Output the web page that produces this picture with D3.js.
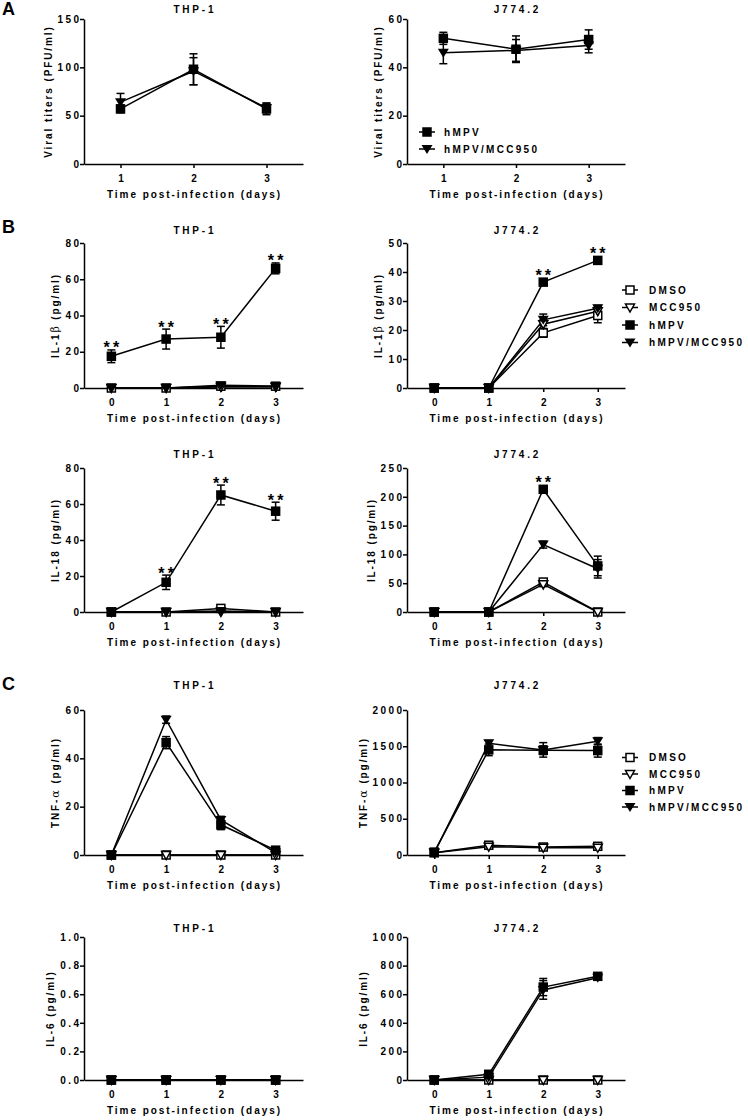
<!DOCTYPE html>
<html><head><meta charset="utf-8">
<script src="https://cdn.jsdelivr.net/npm/d3@7"></script>
<style>
body{margin:0;background:#fff;}
svg text{font-family:"Liberation Sans",Arial,sans-serif;font-weight:bold;fill:#000;}
</style></head><body>
<svg id="chart" width="748" height="1120"></svg>
<script>
// ---------------- DATA ----------------
const days = [0, 1, 2, 3];
const daysA = [1, 2, 3];
const seriesNames = ["DMSO", "MCC950", "hMPV", "hMPV/MCC950"];
const legendA = ["hMPV", "hMPV/MCC950"];

// Panel A: viral titers (series: hMPV, hMPV/MCC950)
const titerThpMeans = [[57, 98, 57], [64, 96, 58]];
const titerThpErrs  = [[4, 16, 6], [9, 14, 5]];
const titerJMeans   = [[52, 47.5, 51.5], [46, 47, 49]];
const titerJErrs    = [[2.5, 5.5, 4], [4.5, 4.5, 3]];

// Panel B: IL-1beta (series: DMSO, MCC950, hMPV, hMPV/MCC950)
const il1bThpMeans = [[0, 0, 1, 1], [0, 0, 0.5, 0.5], [17.5, 27, 28, 66], [0, 0, 1.5, 1]];
const il1bThpErrs  = [[0.5, 0, 0.5, 0.5], [0, 0, 0.5, 0.5], [3.5, 5.5, 6, 3], [0, 0, 0.5, 0.5]];
const il1bJMeans   = [[0, 0, 19, 25], [0, 0, 22, 26.5], [0, 0, 36.5, 44], [0, 0, 23.5, 27.5]];
const il1bJErrs    = [[0, 0, 1.5, 2.5], [0, 0, 1.5, 1.5], [0, 0, 0.8, 0.8], [0, 0, 2, 1]];

// Panel B: IL-18
const il18ThpMeans = [[0, 0, 2, 0], [0, 0, 0, 0], [0, 16.5, 65, 56], [0, 0, 0.5, 0]];
const il18ThpErrs  = [[0, 0, 1, 0], [0, 0, 0, 0], [0, 4, 5.5, 5], [0, 0, 0, 0]];
const il18JMeans   = [[0, 0, 52, 0], [0, 0, 48, 0], [0, 0, 213, 80], [0, 0, 117, 75]];
const il18JErrs    = [[0, 0, 5, 0], [0, 0, 4, 0], [0, 0, 6, 17], [0, 0, 6, 16]];

// Panel C: TNF-alpha
const tnfThpMeans = [[0, 0, 0, 0], [0, 0, 0, 0], [0, 46.5, 12.5, 2], [0, 56, 14.5, 1]];
const tnfThpErrs  = [[0, 0, 0, 0], [0, 0, 0, 0], [0, 2.5, 2, 0.5], [0, 1.5, 1.5, 0.5]];
const tnfJMeans   = [[30, 135, 110, 120], [30, 115, 100, 100], [40, 1450, 1445, 1440], [30, 1540, 1450, 1570]];
const tnfJErrs    = [[10, 20, 15, 20], [10, 15, 10, 15], [10, 80, 60, 90], [10, 40, 100, 50]];

// Panel C: IL-6
const il6ThpMeans = [[0, 0, 0, 0], [0, 0, 0, 0], [0, 0, 0, 0], [0, 0, 0, 0]];
const il6ThpErrs  = [[0, 0, 0, 0], [0, 0, 0, 0], [0, 0, 0, 0], [0, 0, 0, 0]];
const il6JMeans   = [[0, 0, 0, 0], [0, 0, 0, 0], [0, 40, 650, 725], [0, 20, 630, 715]];
const il6JErrs    = [[0, 0, 0, 0], [0, 0, 0, 0], [0, 5, 60, 20], [0, 5, 65, 15]];

// Y tick labels
const ticksTiterThp = [0, 50, 100, 150];
const ticksTiterJ = [0, 20, 40, 60];
const ticksIl1bThp = [0, 20, 40, 60, 80];
const ticksIl1bJ = [0, 10, 20, 30, 40, 50];
const ticksIl18Thp = [0, 20, 40, 60, 80];
const ticksIl18J = [0, 50, 100, 150, 200, 250];
const ticksTnfThp = [0, 20, 40, 60];
const ticksTnfJ = [0, 500, 1000, 1500, 2000];
const ticksIl6Thp = [0, 0.2, 0.4, 0.6, 0.8, 1.0];
const ticksIl6J = [0, 200, 400, 600, 800, 1000];

// Significance markers (days with **)
const starsIl1bThp = [0, 1, 2, 3];
const starsIl1bJ = [2, 3];
const starsIl18Thp = [1, 2, 3];
const starsIl18J = [2];

const xTitle = "Time post-infection (days)";

// ---------------- LAYOUT ----------------
const LX0 = 84, LX1 = 303, RX0 = 407, RX1 = 625;
const panels = [
  {title: "THP-1", xd: [0.5, 3.5], xt: daysA, x0: LX0, x1: LX1, y0: 164, y1: 19, yd: [0, 150], yt: ticksTiterThp,
   label: [["Viral titers (PFU/ml)"]], means: titerThpMeans, errs: titerThpErrs, sIdx: [2, 3], titleY: 13},
  {title: "J774.2", xd: [0.5, 3.5], xt: daysA, x0: RX0, x1: RX1, y0: 164, y1: 19, yd: [0, 60], yt: ticksTiterJ,
   label: [["Viral titers (PFU/ml)"]], means: titerJMeans, errs: titerJErrs, sIdx: [2, 3], titleY: 13,
   legend: {cx: 427, tx: 444, ys: [132, 149], names: legendA, sIdx: [2, 3]}},
  {title: "THP-1", xd: [-0.5, 3.5], xt: days, x0: LX0, x1: LX1, y0: 388, y1: 243, yd: [0, 80], yt: ticksIl1bThp,
   label: [["IL-1"], ["β", true], [" (pg/ml)"]], means: il1bThpMeans, errs: il1bThpErrs, sIdx: [0, 1, 2, 3], titleY: 234, stars: starsIl1bThp},
  {title: "J774.2", xd: [-0.5, 3.5], xt: days, x0: RX0, x1: RX1, y0: 388, y1: 243, yd: [0, 50], yt: ticksIl1bJ,
   label: [["IL-1"], ["β", true], [" (pg/ml)"]], means: il1bJMeans, errs: il1bJErrs, sIdx: [0, 1, 2, 3], titleY: 234, stars: starsIl1bJ,
   legend: {cx: 630, tx: 649, ys: [290, 307.5, 325, 342.5], names: seriesNames, sIdx: [0, 1, 2, 3]}},
  {title: "THP-1", xd: [-0.5, 3.5], xt: days, x0: LX0, x1: LX1, y0: 612, y1: 468, yd: [0, 80], yt: ticksIl18Thp,
   label: [["IL-18 (pg/ml)"]], means: il18ThpMeans, errs: il18ThpErrs, sIdx: [0, 1, 2, 3], titleY: 458, stars: starsIl18Thp},
  {title: "J774.2", xd: [-0.5, 3.5], xt: days, x0: RX0, x1: RX1, y0: 612, y1: 468, yd: [0, 250], yt: ticksIl18J,
   label: [["IL-18 (pg/ml)"]], means: il18JMeans, errs: il18JErrs, sIdx: [0, 1, 2, 3], titleY: 458, stars: starsIl18J},
  {title: "THP-1", xd: [-0.5, 3.5], xt: days, x0: LX0, x1: LX1, y0: 855, y1: 710, yd: [0, 60], yt: ticksTnfThp,
   label: [["TNF-"], ["α", true], [" (pg/ml)"]], means: tnfThpMeans, errs: tnfThpErrs, sIdx: [0, 1, 2, 3], titleY: 689},
  {title: "J774.2", xd: [-0.5, 3.5], xt: days, x0: RX0, x1: RX1, y0: 855, y1: 710, yd: [0, 2000], yt: ticksTnfJ,
   label: [["TNF-"], ["α", true], [" (pg/ml)"]], means: tnfJMeans, errs: tnfJErrs, sIdx: [0, 1, 2, 3], titleY: 689,
   legend: {cx: 630, tx: 649, ys: [757.5, 774, 790.5, 807], names: seriesNames, sIdx: [0, 1, 2, 3]}},
  {title: "THP-1", xd: [-0.5, 3.5], xt: days, x0: LX0, x1: LX1, y0: 1080, y1: 937, yd: [0, 1], yt: ticksIl6Thp, fmt: d3.format(".1f"),
   label: [["IL-6 (pg/ml)"]], means: il6ThpMeans, errs: il6ThpErrs, sIdx: [0, 1, 2, 3], titleY: 932},
  {title: "J774.2", xd: [-0.5, 3.5], xt: days, x0: RX0, x1: RX1, y0: 1080, y1: 937, yd: [0, 1000], yt: ticksIl6J,
   label: [["IL-6 (pg/ml)"]], means: il6JMeans, errs: il6JErrs, sIdx: [0, 1, 2, 3], titleY: 932}
];

const svg = d3.select("#chart");
const SW = 1.5;

// marker shapes by series index
function drawMarker(g, s, cx, cy) {
  if (s === 0) { // DMSO open square
    g.append("rect").attr("x", cx - 4).attr("y", cy - 4).attr("width", 8).attr("height", 8)
      .attr("fill", "#fff").attr("stroke", "#000").attr("stroke-width", SW);
  } else if (s === 1) { // MCC950 open triangle down
    g.append("path").attr("d", `M${cx - 4.5},${cy - 3.5}L${cx + 4.5},${cy - 3.5}L${cx},${cy + 4.5}Z`)
      .attr("fill", "#fff").attr("stroke", "#000").attr("stroke-width", SW).attr("stroke-linejoin", "miter");
  } else if (s === 2) { // hMPV filled square
    g.append("rect").attr("x", cx - 4.75).attr("y", cy - 4.75).attr("width", 9.5).attr("height", 9.5).attr("fill", "#000");
  } else { // hMPV/MCC950 filled triangle down
    g.append("path").attr("d", `M${cx - 5.5},${cy - 4}L${cx + 5.5},${cy - 4}L${cx},${cy + 5}Z`).attr("fill", "#000");
  }
}

function spaced(sel, ls, anchorMiddle) {
  sel.style("letter-spacing", ls + "px");
  if (anchorMiddle) sel.attr("dx", ls / 2);
}

panels.forEach(p => {
  const g = svg.append("g");
  const x = d3.scaleLinear().domain(p.xd).range([p.x0, p.x1]);
  const y = d3.scaleLinear().domain(p.yd).range([p.y0, p.y1]);

  // y axis
  const ya = g.append("g").attr("transform", `translate(${p.x0},0)`)
    .call(d3.axisLeft(y).tickValues(p.yt).tickFormat(p.fmt || d3.format("d")).tickSize(4).tickSizeOuter(0).tickPadding(1));
  ya.select(".domain").attr("stroke-width", SW);
  ya.selectAll(".tick line").attr("stroke-width", SW);
  ya.selectAll(".tick text").attr("font-size", 10).attr("font-family", null)
    .style("letter-spacing", "2.4px").attr("dx", 2.4);

  // x axis
  const xa = g.append("g").attr("transform", `translate(0,${p.y0})`)
    .call(d3.axisBottom(x).tickValues(p.xt).tickFormat(d3.format("d")).tickSize(4).tickSizeOuter(0).tickPadding(7));
  xa.select(".domain").attr("stroke-width", SW);
  xa.selectAll(".tick line").attr("stroke-width", SW);
  xa.selectAll(".tick text").attr("font-size", 10).attr("font-family", null);

  // x title
  const xt = g.append("text").attr("x", (p.x0 + p.x1) / 2).attr("y", p.y0 + 34)
    .attr("text-anchor", "middle").attr("font-size", 10).text(xTitle);
  spaced(xt, 1.95, true);

  // panel title
  const tt = g.append("text").attr("x", (p.x0 + p.x1) / 2).attr("y", p.titleY)
    .attr("text-anchor", "middle").attr("font-size", 10).text(p.title);
  spaced(tt, 2.8, true);

  // y title
  let minX = Infinity;
  ya.selectAll(".tick text").each(function () { const b = this.getBBox(); minX = Math.min(minX, b.x + 2.4); });
  const cx = p.x0 + minX - 12;
  const cy = (p.y0 + p.y1) / 2;
  const yl = g.append("text").attr("transform", `translate(${cx + 3.6},${cy}) rotate(-90)`)
    .attr("text-anchor", "middle").attr("font-size", 10).style("letter-spacing", "1.9px");
  p.label.forEach(part => {
    const ts = yl.append("tspan").text(part[0]);
    if (part[1]) ts.attr("font-weight", "normal").style("font-weight", "normal").attr("font-family", "DejaVu Serif").attr("font-size", 11);
  });

  // series
  const xs = p.xt;
  const line = d3.line().x((d, i) => x(xs[i])).y(d => y(d));
  p.sIdx.forEach((s, k) => {
    g.append("path").attr("d", line(p.means[k])).attr("fill", "none").attr("stroke", "#000").attr("stroke-width", SW);
  });
  p.sIdx.forEach((s, k) => {
    p.means[k].forEach((v, i) => {
      const e = p.errs[k][i];
      if (e > 0) {
        const px = x(xs[i]);
        const yt = y(v + e), yb = y(v - e);
        g.append("line").attr("x1", px).attr("x2", px).attr("y1", yt).attr("y2", yb).attr("stroke", "#000").attr("stroke-width", SW);
        [yt, yb].forEach(yy => g.append("line").attr("x1", px - 4).attr("x2", px + 4).attr("y1", yy).attr("y2", yy)
          .attr("stroke", "#000").attr("stroke-width", SW));
      }
    });
  });
  p.sIdx.forEach((s, k) => {
    p.means[k].forEach((v, i) => drawMarker(g, s, x(xs[i]), y(v)));
  });

  // stars
  if (p.stars) {
    const k = p.sIdx.indexOf(2);
    p.stars.forEach(d => {
      const i = xs.indexOf(d);
      const v = p.means[k][i], e = p.errs[k][i];
      const top = Math.min(y(v + e), y(v) - 5);
      const st = g.append("text").attr("x", x(d)).attr("y", top + 3.5).attr("text-anchor", "middle")
        .attr("font-size", 16).text("**");
      spaced(st, 3.2, true);
    });
  }

  // legend
  if (p.legend) {
    const lg = p.legend;
    lg.ys.forEach((ly, j) => {
      const s = lg.sIdx[j];
      g.append("line").attr("x1", lg.cx - 8).attr("x2", lg.cx + 8).attr("y1", ly).attr("y2", ly)
        .attr("stroke", "#000").attr("stroke-width", SW);
      drawMarker(g, s, lg.cx, ly);
      const lt = g.append("text").attr("x", lg.tx).attr("y", ly + 3.6).attr("font-size", 10).text(lg.names[j]);
      spaced(lt, 2.3, false);
    });
  }
});

// panel letters
[["A", 15], ["B", 233], ["C", 690]].forEach(([t, yy]) => {
  svg.append("text").attr("x", 2).attr("y", yy).attr("font-size", 18).text(t);
});
</script></body></html>
